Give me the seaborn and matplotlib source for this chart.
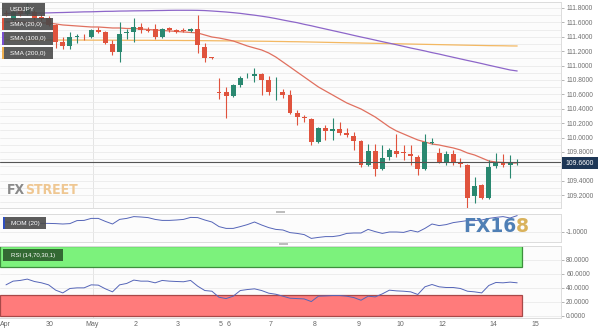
import numpy as np
import pandas as pd
import matplotlib
matplotlib.use("Agg")
import matplotlib.pyplot as plt
import seaborn as sns
from matplotlib.patches import Rectangle

# ---------------- data ----------------
opens = [111.73, 111.63, 111.77, 111.72, 111.74, 111.68, 111.66, 111.56, 111.33, 111.27,
         111.40, 111.40, 111.39, 111.49, 111.47, 111.30, 111.19, 111.45, 111.46, 111.54,
         111.49, 111.51, 111.40, 111.52, 111.49, 111.48, 111.48, 111.51, 111.26, 111.11,
         110.63, 110.63, 110.58, 110.73, 110.85, 110.855, 110.88, 110.80, 110.64, 110.63,
         110.59, 110.34, 110.28, 110.26, 109.94, 110.13, 110.09, 110.12, 110.06, 110.02,
         109.95, 109.62, 109.81, 109.56, 109.73, 109.81, 109.79, 109.77, 109.73, 109.56,
         109.92, 109.79, 109.65, 109.77, 109.65, 109.62, 109.19, 109.34, 109.16, 109.605,
         109.66, 109.62, 109.645]
highs = [111.77, 111.79, 111.81, 111.87, 111.77, 111.72, 111.69, 111.58, 111.40, 111.47,
         111.44, 111.44, 111.51, 111.54, 111.48, 111.36, 111.61, 111.51, 111.66, 111.59,
         111.54, 111.58, 111.52, 111.54, 111.51, 111.52, 111.52, 111.70, 111.31, 111.12,
         110.83, 110.70, 110.74, 110.86, 110.90, 110.97, 110.89, 110.855, 110.84, 110.675,
         110.66, 110.38, 110.31, 110.27, 110.15, 110.175, 110.27, 110.22, 110.13, 110.08,
         109.97, 109.91, 109.91, 109.90, 109.855, 110.05, 109.90, 109.90, 109.76, 110.05,
         109.99, 109.855, 109.81, 109.83, 109.72, 109.63, 109.45, 109.355, 109.69, 109.79,
         109.77, 109.76, 109.70]
lows = [111.69, 111.61, 111.69, 111.70, 111.63, 111.62, 111.55, 111.24, 111.23, 111.23,
        111.31, 111.36, 111.38, 111.45, 111.30, 111.15, 111.05, 111.37, 111.33, 111.45,
        111.47, 111.37, 111.38, 111.47, 111.45, 111.47, 111.47, 111.18, 111.05, 111.085,
        110.54, 110.27, 110.56, 110.70, 110.83, 110.77, 110.59, 110.59, 110.52, 110.55,
        110.33, 110.175, 110.22, 109.90, 109.925, 109.97, 109.97, 110.04, 110.01, 109.83,
        109.59, 109.605, 109.47, 109.55, 109.69, 109.73, 109.69, 109.62, 109.48, 109.55,
        109.91, 109.65, 109.62, 109.62, 109.59, 109.02, 109.09, 109.15, 109.15, 109.58,
        109.59, 109.44, 109.62]
closes = [111.72, 111.74, 111.72, 111.79, 111.66, 111.65, 111.56, 111.33, 111.27, 111.40,
          111.405, 111.39, 111.49, 111.47, 111.31, 111.19, 111.44, 111.46, 111.54, 111.49,
          111.487, 111.40, 111.51, 111.49, 111.47, 111.477, 111.51, 111.29, 111.11, 111.105,
          110.625, 110.58, 110.73, 110.83, 110.855, 110.88, 110.80, 110.63, 110.645, 110.59,
          110.34, 110.29, 110.27, 109.94, 110.13, 110.09, 110.12, 110.06, 110.04, 109.95,
          109.62, 109.81, 109.56, 109.72, 109.83, 109.77, 109.785, 109.74, 109.56, 109.94,
          109.93, 109.66, 109.77, 109.65, 109.64, 109.16, 109.33, 109.16, 109.59, 109.66,
          109.62, 109.66, 109.66]
sma20 = [111.606, 111.606, 111.606, 111.599, 111.599, 111.592, 111.592, 111.578, 111.564, 111.557,
         111.550, 111.543, 111.536, 111.536, 111.529, 111.522, 111.522, 111.515, 111.515, 111.508,
         111.501, 111.494, 111.488, 111.481, 111.474, 111.467, 111.460, 111.453, 111.425, 111.397,
         111.383, 111.363, 111.342, 111.307, 111.272, 111.244, 111.217, 111.175, 111.119, 111.050,
         110.981, 110.911, 110.842, 110.772, 110.703, 110.647, 110.592, 110.536, 110.481, 110.439,
         110.397, 110.342, 110.286, 110.217, 110.147, 110.092, 110.050, 110.008, 109.967, 109.939,
         109.911, 109.897, 109.876, 109.856, 109.828, 109.786, 109.758, 109.717, 109.675, 109.661,
         109.654, 109.647, 109.647]
sma100 = [111.724, 111.725, 111.726, 111.728, 111.729, 111.730, 111.732, 111.735, 111.737, 111.740,
          111.743, 111.746, 111.747, 111.750, 111.753, 111.754, 111.757, 111.758, 111.760, 111.761,
          111.762, 111.764, 111.765, 111.767, 111.768, 111.768, 111.768, 111.767, 111.764, 111.758,
          111.751, 111.744, 111.735, 111.725, 111.712, 111.700, 111.686, 111.671, 111.653, 111.633,
          111.614, 111.596, 111.573, 111.553, 111.530, 111.508, 111.486, 111.464, 111.442, 111.419,
          111.397, 111.376, 111.354, 111.332, 111.311, 111.289, 111.267, 111.244, 111.224, 111.203,
          111.180, 111.160, 111.137, 111.115, 111.093, 111.071, 111.050, 111.028, 111.005, 110.983,
          110.961, 110.939, 110.925]
sma200 = [111.356, 111.356, 111.356, 111.356, 111.355, 111.355, 111.355, 111.355, 111.354, 111.354,
          111.354, 111.354, 111.353, 111.353, 111.353, 111.352, 111.352, 111.352, 111.351, 111.351,
          111.351, 111.350, 111.350, 111.349, 111.349, 111.348, 111.348, 111.347, 111.346, 111.345,
          111.344, 111.343, 111.342, 111.341, 111.340, 111.339, 111.338, 111.337, 111.335, 111.334,
          111.332, 111.331, 111.329, 111.327, 111.325, 111.323, 111.321, 111.319, 111.317, 111.315,
          111.313, 111.311, 111.309, 111.307, 111.305, 111.303, 111.301, 111.299, 111.297, 111.295,
          111.293, 111.291, 111.289, 111.287, 111.285, 111.283, 111.281, 111.279, 111.277, 111.276,
          111.275, 111.273, 111.272]
mom20 = [-0.50, -0.52, -0.53, -0.55, -0.57, -0.57, -0.57, -0.58, -0.60, -0.58,
         -0.43, -0.42, -0.32, -0.32, -0.47, -0.60, -0.37, -0.32, -0.23, -0.25,
         -0.28, -0.37, -0.42, -0.42, -0.40, -0.37, -0.27, -0.28, -0.40, -0.50,
         -0.73, -0.82, -0.82, -0.73, -0.63, -0.50, -0.65, -0.78, -0.87, -0.90,
         -1.03, -1.07, -1.13, -1.32, -1.27, -1.23, -1.23, -1.18, -1.07, -1.05,
         -1.05, -0.87, -0.98, -1.07, -1.00, -1.00, -1.02, -0.92, -1.00, -0.82,
         -0.60, -0.68, -0.63, -0.53, -0.48, -0.43, -0.43, -0.40, -0.32, -0.27,
         -0.23, -0.30, -0.18]
rsi14 = [44.5, 49.8, 50.8, 52.7, 49.3, 47.4, 44.5, 36.9, 33.0, 39.3,
         40.2, 40.2, 44.5, 44.1, 38.8, 34.5, 44.5, 46.5, 51.3, 49.8,
         49.8, 47.4, 50.8, 49.8, 49.3, 48.9, 50.8, 42.6, 36.4, 35.4,
         26.8, 24.9, 28.3, 36.4, 37.8, 38.8, 36.4, 32.6, 31.1, 28.3,
         25.4, 24.9, 24.4, 20.6, 28.3, 28.7, 29.2, 29.2, 28.3, 26.3,
         22.5, 28.3, 27.3, 31.6, 36.9, 35.9, 35.4, 34.5, 30.7, 41.7,
         45.0, 41.7, 40.7, 40.7, 39.3, 35.4, 34.5, 33.0, 43.6, 47.9,
         47.4, 48.4, 47.4]
last_price = 109.66
day_labels = ["Apr", "30", "May", "2", "3", "5", "6", "7", "8", "9", "10", "12", "14", "15"]
day_pos = [-0.1, 6.2, 12.1, 18.2, 24.2, 30.3, 31.4, 37.3, 43.5, 49.6, 55.5, 61.5, 68.6, 74.6]
price_ticks = [109.2, 109.4, 109.6, 109.8, 110.0, 110.2, 110.4, 110.6, 110.8, 111.0, 111.2, 111.4, 111.6, 111.8]
rsi_ticks = [0, 20, 40, 60, 80]
mom_ticks = [-1.0]

df = pd.DataFrame({"idx": np.arange(len(opens)), "open": opens, "high": highs, "low": lows,
                   "close": closes, "sma20": sma20, "sma100": sma100, "sma200": sma200,
                   "mom": mom20, "rsi": rsi14})

# ---------------- style ----------------
sns.set_theme(style="white")
plt.rcParams["font.family"] = ["Liberation Sans", "DejaVu Sans"]

W, H = 600, 331
fig = plt.figure(figsize=(W / 100, H / 100), dpi=100)
fig.patch.set_facecolor("white")

def fx(x):
    return x / W

def fy(y):
    return 1 - y / H

def add_axes_px(x0, y0, x1, y1):
    return fig.add_axes([fx(x0), fy(y1), (x1 - x0) / W, (y1 - y0) / H])

ax = add_axes_px(0, 2, 561, 208)
axm = add_axes_px(0, 214, 561, 242)
axr = add_axes_px(0, 246, 561, 318)

XMIN, XMAX = -0.845, 78.17
RED, GREEN = "#e0533d", "#2a8870"
GRID = "#ebebeb"
for a in (ax, axm, axr):
    a.set_facecolor("#fcfcfc")
    a.set_xlim(XMIN, XMAX)
    for s in a.spines.values():
        s.set_color("#dcdcdc")
        s.set_linewidth(0.7)
    a.spines["left"].set_visible(False)
    a.yaxis.tick_right()
    a.tick_params(axis="y", direction="out", length=2.5, width=0.6, color="#aaaaaa",
                  labelsize=4.8, labelcolor="#707070", pad=1.2)
    a.tick_params(axis="x", length=0)
    a.axvline(12.2, color="#e4e4e4", lw=0.7, zorder=0)

# ---------------- main panel ----------------
ax.set_ylim(109.022, 111.883)
for v in np.arange(109.1, 111.9, 0.1):
    ax.axhline(v, color=GRID, lw=0.6, zorder=0)
ax.set_yticks(price_ticks)
# the 109.6000 label sits under the current-price tag, as in the source chart
ax.set_yticklabels(["" if abs(t - last_price) < 0.1 else f"{t:.4f}" for t in price_ticks])
ax.set_xticks([])

sns.lineplot(data=df, x="idx", y="sma200", ax=ax, color="#f3b862", lw=0.9, legend=False, zorder=2)
sns.lineplot(data=df, x="idx", y="sma100", ax=ax, color="#8d66c9", lw=0.9, legend=False, zorder=2)
sns.lineplot(data=df, x="idx", y="sma20", ax=ax, color="#e0705f", lw=0.9, legend=False, zorder=2)

o = df["open"].values
c = df["close"].values
up = c >= o
cols = np.where(up, GREEN, RED)
ax.vlines(df["idx"], df["low"], df["high"], colors=cols, lw=0.8, zorder=3)
body = np.maximum(np.abs(c - o), 0.012)
ax.bar(df["idx"], body, bottom=np.minimum(o, c), width=0.68, color=cols, linewidth=0, zorder=4)
ax.axhline(last_price, color="#555555", lw=0.8, zorder=5)
ax.set_xlabel("")
ax.set_ylabel("")

# ---------------- momentum panel ----------------
axm.set_ylim(-1.5, -0.1)
axm.set_yticks(mom_ticks)
axm.set_yticklabels([f"{t:.4f}" for t in mom_ticks])
axm.set_xticks([])
axm.axhline(-1.0, color=GRID, lw=0.6, zorder=0)
sns.lineplot(data=df, x="idx", y="mom", ax=axm, color="#5565b8", lw=0.7, legend=False, zorder=3)
axm.set_xlabel("")
axm.set_ylabel("")

# ---------------- RSI panel ----------------
axr.set_ylim(-2.86, 100)
axr.set_yticks(rsi_ticks)
axr.set_yticklabels([f"{t:.4f}" for t in rsi_ticks])
for v in rsi_ticks:
    axr.axhline(v, color=GRID, lw=0.6, zorder=0)
band_end = 72.7
axr.add_patch(Rectangle((XMIN, 70), band_end - XMIN, 30, facecolor="#7cf27c",
                        edgecolor="#3d8f3d", lw=0.9, zorder=1))
axr.add_patch(Rectangle((XMIN, 0), band_end - XMIN, 30, facecolor="#ff7b7b",
                        edgecolor="#a84848", lw=0.9, zorder=1))
sns.lineplot(data=df, x="idx", y="rsi", ax=axr, color="#5565b8", lw=0.7, legend=False, zorder=3)
axr.set_xticks(day_pos)
axr.set_xticklabels(day_labels)
axr.tick_params(axis="x", labelsize=5, labelcolor="#666666", pad=2)
axr.set_xlabel("")
axr.set_ylabel("")

# ---------------- overlay labels ----------------
def fig_rect(x0, y0, x1, y1, **kw):
    r = Rectangle((fx(x0), fy(y1)), (x1 - x0) / W, (y1 - y0) / H,
                  transform=fig.transFigure, **kw)
    fig.add_artist(r)
    return r

def label_box(x0, y0, x1, y1, text, face, marker=None, size=4.6):
    fig_rect(x0, y0, x1, y1, facecolor=face, edgecolor="none", alpha=0.9, zorder=10)
    if marker is not None:
        fig_rect(x0, y0, x0 + 2.2, y1, facecolor=marker, edgecolor="none", zorder=11)
    fig.text(fx(x0 + 8), fy((y0 + y1) / 2 + 0.3), text, color="white", fontsize=size,
             ha="left", va="center", zorder=12)

label_box(2, 3, 45, 15.5, "USDJPY", "#4a4a4a")
label_box(2, 17.5, 53, 30, "SMA (20,0)", "#4a4a4a", RED)
label_box(2, 32, 53, 44.5, "SMA (100,0)", "#4a4a4a", "#7a4fd0")
label_box(2, 46.5, 53, 59, "SMA (200,0)", "#4a4a4a", "#f0b050")
label_box(3, 217, 46, 229, "MOM (20)", "#4a4a4a", "#2f4fc0")
label_box(3, 249, 63, 260.5, "RSI (14,70,30,1)", "#2b5a2b", None, size=4.3)

# current price tag
fig_rect(561.5, 157, 598, 169, facecolor="#1e3756", edgecolor="none", zorder=10)
fig.text(fx(579.5), fy(163.2), f"{last_price:.4f}", color="white", fontsize=4.9,
         ha="center", va="center", zorder=11)

# pane splitters
fig_rect(276, 211, 285, 213, facecolor="#bdbdbd", edgecolor="none", zorder=10)
fig_rect(279, 242.5, 288, 244.5, facecolor="#bdbdbd", edgecolor="none", zorder=10)

# watermarks
wm_font = dict(fontsize=10, fontweight="bold", family=["DejaVu Sans"], fontstretch="condensed",
               ha="left", va="center", zorder=9)
t1 = fig.text(fx(7), fy(190.5), "FX", color="#8a8a8a", **wm_font)
fig.canvas.draw()
bb = t1.get_window_extent()
fig.text(bb.x1 / W, fy(190.5), "STREET", color="#efc792", **wm_font)

t2 = fig.text(fx(463), fy(226.5), "FX16", color="#4f7fb5", fontsize=13.5, fontweight="bold",
              family=["DejaVu Sans"], ha="left", va="center", zorder=9)
fig.canvas.draw()
bb2 = t2.get_window_extent()
fig.text(bb2.x1 / W, fy(226.5), "8", color="#d9b25c", fontsize=13.5, fontweight="bold",
         family=["DejaVu Sans"], ha="left", va="center", zorder=9)

fig.savefig("out.png", dpi=100, facecolor="white")
